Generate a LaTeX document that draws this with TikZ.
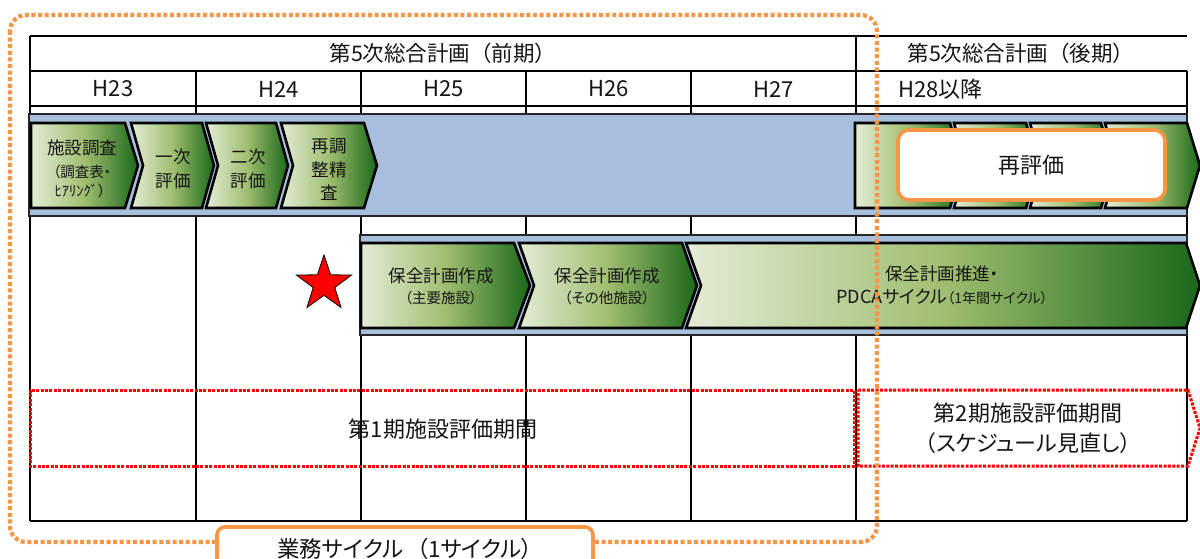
\documentclass[tikz,border=0pt]{standalone}
\usepackage{fontspec}
\setmainfont{Noto Sans CJK JP}[RawFeature={+palt}]
\newfontfamily\fwfont{Noto Sans CJK JP}
\usetikzlibrary{shapes.geometric}
\definecolor{bandblue}{RGB}{167,191,220}
\definecolor{glight}{RGB}{228,236,214}
\definecolor{gmid}{RGB}{160,190,112}
\definecolor{gdark}{RGB}{26,104,26}
\definecolor{orng}{RGB}{247,150,70}
\definecolor{txt}{RGB}{20,20,20}
\newcommand{\chv}[6]{\path[chev] (#1,#5) -- (#2,#5) -- (#3,{(#5+#6)/2}) -- (#2,#6) -- (#1,#6) -- ({#1+#4},{(#5+#6)/2}) -- cycle;}
\tikzset{
  tbl/.style={draw=black, line width=1.3},
  band/.style={fill=bandblue, draw=black!85, line width=2},
  chev/.style={left color=glight, right color=gdark, middle color=gmid, draw=black, line width=2.6, line join=miter},
  big/.style={font=\fontsize{22}{26}\selectfont, text=txt, inner sep=0},
  hdr/.style={font=\fwfont\fontsize{21.5}{26}\selectfont, text=txt, inner sep=0},
  mid/.style={font=\fontsize{17.5}{21}\selectfont, text=txt, inner sep=0},
  sml/.style={font=\fontsize{14.5}{17}\selectfont, text=txt, inner sep=0},
  reddot/.style={draw=red, line width=3, dash pattern=on 3pt off 1.4pt},
  orngdot/.style={draw=orng, line width=4.2, dash pattern=on 4pt off 2.6pt, rounded corners=16},
  obox/.style={draw=orng, line width=3.6, fill=white, inner sep=0},
}
\begin{document}
\begin{tikzpicture}[x=1pt,y=-1pt]
\useasboundingbox (0,0) rectangle (1200,559);
\fill[white] (0,0) rectangle (1200,559);
% table
\draw[tbl] (30,36) -- (1187,36);
\draw[tbl] (30,71) -- (1187,71);
\draw[tbl] (30,106) -- (1187,106);
\draw[tbl] (30,521) -- (1187,521);
\draw[tbl] (30,36) -- (30,521);
\draw[tbl] (856,36) -- (856,521);
\draw[tbl] (1187,71) -- (1187,521);
\foreach \x in {196,361,526,691} {\draw[tbl] (\x,71) -- (\x,521);}
% headers
\node[hdr] (hA) at (443,53) {第5次総合計画（前期）};
\node[hdr] (hB) at (1021,53) {第5次総合計画（後期）};
\node[big] (y23) at (113,89) {H23};
\node[big] (y24) at (278.5,89) {H24};
\node[big] (y25) at (443.5,89) {H25};
\node[big] (y26) at (608.5,89) {H26};
\node[big] (y27) at (773.5,89) {H27};
\node[big, anchor=west] (y28) at (898,89) {H28以降};
% bands
\path[band] (29,114) rectangle (1187,216);
\path[band] (360,235) rectangle (1187,335);
% row 1 chevrons
\chv{31}{125}{138}{0}{123}{208}
\chv{131}{202}{214}{12}{123}{208}
\chv{206}{276}{288}{12}{123}{208}
\chv{281}{364}{377}{12}{123}{208}
\chv{855}{950}{962}{0}{123}{208}
\chv{954}{1026}{1038}{12}{123}{208}
\chv{1030}{1101}{1113}{12}{123}{208}
\chv{1105}{1187}{1200}{12}{123}{208}
% row 2 chevrons
\chv{361}{514}{530}{0}{243}{328}
\chv{519}{682}{697}{15}{243}{328}
\chv{686}{1186}{1200}{15}{243}{328}
% chevron texts
\node[mid] (t1a) at (82,148) {施設調査};
\node[sml] (t1b) at (82,172) {（調査表・};
\node[sml] (t1c) at (80,191) {ﾋｱﾘﾝｸﾞ）};
\node[mid] (t2a) at (173,157) {一次};
\node[mid] (t2b) at (173,181) {評価};
\node[mid] (t3a) at (248,157) {二次};
\node[mid] (t3b) at (248,181) {評価};
\node[mid] (t4a) at (329,146) {再調};
\node[mid] (t4b) at (329,170) {整精};
\node[mid] (t4c) at (329,193) {査};
\node[mid] (p1a) at (441,276) {保全計画作成};
\node[sml] (p1b) at (441,298) {（主要施設）};
\node[mid] (p2a) at (607,276) {保全計画作成};
\node[sml] (p2b) at (607,298) {（その他施設）};
\node[mid] (p3a) at (942,274) {保全計画推進・};
\node[text=txt, inner sep=0] (p3b) at (942,297) {{\fontsize{18}{21}\selectfont PDCAサイクル}{\fontsize{14}{17}\selectfont （1年間サイクル）}};
% star
\node[star, star points=5, star point ratio=2.55, minimum size=58pt, inner sep=0, fill=red, draw=black, line width=0.8] (star) at (324,284) {};
% evaluation periods
\draw[reddot] (30,390) rectangle (854,466);
\draw[reddot] (858,390) -- (1188,390) -- (1200,428) -- (1188,466) -- (858,466) -- cycle;
\node[big] (e1) at (443,429) {第1期施設評価期間};
\node[big] (e2a) at (1028,413) {第2期施設評価期間};
\node[big] (e2b) at (1028,443) {（スケジュール見直し）};
% re-evaluation box
\node[obox, rounded corners=11, minimum width=267, minimum height=70, font=\fontsize{22}{26}\selectfont, text=txt] (reval) at (1031.5,165) {再評価};
% cycle border
\draw[orngdot] (10,15) rectangle (877,542);
\node[obox, rounded corners=8, minimum width=376, minimum height=44, font=\fontsize{22.5}{26}\selectfont, text=txt] (cyc) at (405,549) {業務サイクル\hspace{0.6em}（1サイクル）};
\end{tikzpicture}
\end{document}
